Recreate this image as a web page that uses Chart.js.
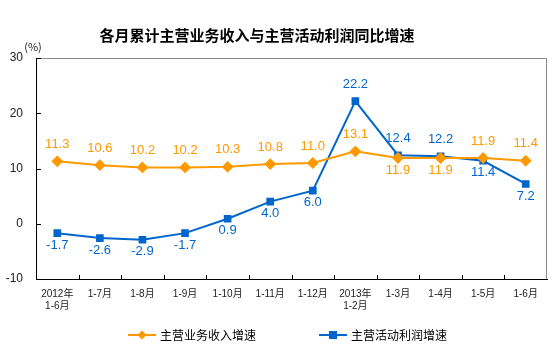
<!DOCTYPE html>
<html>
<head>
<meta charset="utf-8">
<script src="https://cdn.jsdelivr.net/npm/chart.js@4"></script>
<style>
  html, body { margin: 0; padding: 0; background: #fff; }
  #wrap { width: 554px; height: 351px; }
</style>
</head>
<body>
<div id="wrap"><canvas id="chart" width="554" height="351"></canvas></div>
<script>
// data
const months = [["2012年", "1-6月"], "1-7月", "1-8月", "1-9月", "1-10月", "1-11月", "1-12月", ["2013年", "1-2月"], "1-3月", "1-4月", "1-5月", "1-6月"];
const revenueGrowth = [11.3, 10.6, 10.2, 10.2, 10.3, 10.8, 11.0, 13.1, 11.9, 11.9, 11.9, 11.4];
const profitGrowth = [-1.7, -2.6, -2.9, -1.7, 0.9, 4.0, 6.0, 22.2, 12.4, 12.2, 11.4, 7.2];
const yTicks = [-10, 0, 10, 20, 30];

const ORANGE = "#FF9900";
const BLUE = "#0066CC";
const CJK = "'Liberation Sans', Arial, 'Noto Sans CJK SC', sans-serif";

// where each value label sits relative to its point
const revenueLabelPos = ["up", "up", "up", "up", "up", "up", "up", "up", "down", "down", "up", "up"];
const profitLabelPos = ["down", "down", "down", "down", "down", "down", "down", "up", "up", "up", "down", "down"];

const extras = {
  id: "extras",
  afterDatasetsDraw(chart) {
    const ctx = chart.ctx;
    const area = chart.chartArea;
    const ys = chart.scales.y;
    ctx.save();

    // frame top/right
    ctx.strokeStyle = "#888";
    ctx.lineWidth = 1;
    ctx.beginPath();
    ctx.moveTo(area.left, area.top + 0.5);
    ctx.lineTo(area.right - 0.5, area.top + 0.5);
    ctx.lineTo(area.right - 0.5, area.bottom);
    ctx.stroke();

    // inward ticks
    ctx.strokeStyle = "#000";
    ctx.beginPath();
    yTicks.forEach(v => {
      const y = Math.round(ys.getPixelForValue(v)) + 0.5;
      ctx.moveTo(area.left, y);
      ctx.lineTo(area.left + 5, y);
    });
    const step = (area.right - area.left) / months.length;
    for (let i = 1; i < months.length; i++) {
      const x = Math.round(area.left + step * i) + 0.5;
      ctx.moveTo(x, area.bottom);
      ctx.lineTo(x, area.bottom - 4);
    }
    ctx.stroke();

    // value labels
    ctx.font = "13px " + CJK;
    ctx.textAlign = "center";
    ctx.textBaseline = "middle";
    const sets = [[0, revenueGrowth, revenueLabelPos, ORANGE], [1, profitGrowth, profitLabelPos, BLUE]];
    sets.forEach(([idx, vals, pos, color]) => {
      const meta = chart.getDatasetMeta(idx);
      ctx.fillStyle = color;
      meta.data.forEach((pt, i) => {
        const dy = pos[i] === "up" ? -17 : 12;
        ctx.fillText(vals[i].toFixed(1), pt.x, pt.y + dy);
      });
    });

    // title and unit
    ctx.fillStyle = "#000";
    ctx.font = "bold 15px 'Noto Sans CJK SC', sans-serif";
    ctx.fillText("各月累计主营业务收入与主营活动利润同比增速", 257, 35);
    ctx.font = "11px 'Noto Sans CJK SC', sans-serif";
    ctx.fillStyle = "#222";
    ctx.fillText("(%)", 33, 47);

    // legend
    const items = [["主营业务收入增速", ORANGE, "rectRot", 128], ["主营活动利润增速", BLUE, "rect", 319]];
    items.forEach(([text, color, shape, x0]) => {
      const y = 335;
      ctx.strokeStyle = color;
      ctx.fillStyle = color;
      ctx.lineWidth = 2;
      ctx.beginPath();
      ctx.moveTo(x0, y);
      ctx.lineTo(x0 + 28, y);
      ctx.stroke();
      const cx = x0 + 14;
      ctx.beginPath();
      if (shape === "rect") {
        ctx.rect(cx - 4, y - 4, 8, 8);
      } else {
        ctx.moveTo(cx, y - 4.5); ctx.lineTo(cx + 4.5, y); ctx.lineTo(cx, y + 4.5); ctx.lineTo(cx - 4.5, y);
        ctx.closePath();
      }
      ctx.fill();
      ctx.fillStyle = "#000";
      ctx.font = "12px 'Noto Sans CJK SC', sans-serif";
      ctx.textAlign = "left";
      ctx.fillText(text, x0 + 32, y);
      ctx.textAlign = "center";
    });
    ctx.restore();
  }
};

new Chart(document.getElementById("chart"), {
  type: "line",
  data: {
    labels: months,
    datasets: [
      {
        label: "主营业务收入增速",
        data: revenueGrowth,
        borderColor: ORANGE,
        backgroundColor: ORANGE,
        borderWidth: 2,
        pointStyle: "rectRot",
        pointRadius: 4.5,
        pointHoverRadius: 4.5,
        tension: 0
      },
      {
        label: "主营活动利润增速",
        data: profitGrowth,
        borderColor: BLUE,
        backgroundColor: BLUE,
        borderWidth: 2,
        pointStyle: "rect",
        pointRadius: 4,
        pointHoverRadius: 4,
        tension: 0
      }
    ]
  },
  options: {
    responsive: false,
    animation: false,
    events: [],
    layout: { padding: { left: 0, right: 7, top: 58, bottom: 0 } },
    plugins: { legend: { display: false }, tooltip: { enabled: false } },
    scales: {
      x: {
        offset: true,
        grid: { display: false, drawTicks: false },
        border: { display: true, color: "#000", width: 1 },
        ticks: { color: "#222", font: { size: 10, family: CJK }, padding: 9, maxRotation: 0, autoSkip: false },
        afterFit(scale) { scale.height = 72; }
      },
      y: {
        min: -10,
        max: 30,
        grid: { display: false, drawTicks: false },
        border: { display: true, color: "#000", width: 1 },
        ticks: { stepSize: 10, color: "#222", font: { size: 12, family: "Arial, 'Liberation Sans', sans-serif" }, padding: 13 },
        afterFit(scale) { scale.width = 36; }
      }
    }
  },
  plugins: [extras]
});
</script>
</body>
</html>
